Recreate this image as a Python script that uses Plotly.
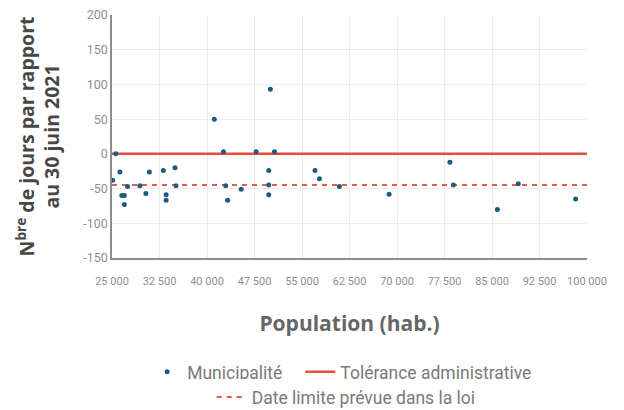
import plotly.graph_objects as go

population = [25100, 25600, 26250, 26550, 26950, 26950, 27450, 29400, 30350, 30900,
              33100, 33550, 33550, 34950, 35100, 41150, 42600, 42950, 43250, 45400,
              47750, 50000, 49750, 49750, 49750, 50650, 57050, 57750, 60900, 68750,
              78350, 78900, 85850, 89150, 98200]
jours = [-38, 0, -26, -60, -60, -73, -47, -46, -57, -26,
         -24, -59, -67, -20, -46, 50, 3, -46, -67, -51,
         3, 93, -24, -45, -59, 3, -24, -36, -47, -58,
         -12, -45, -80, -43, -65]

tolerance_x = [25000, 100000]
tolerance_y = [0, 0]
loi_x = [25000, 100000]
loi_y = [-45, -45]

x_ticks = [25000, 32500, 40000, 47500, 55000, 62500, 70000, 77500, 85000, 92500, 100000]
x_ticktext = ["25 000", "32 500", "40 000", "47 500", "55 000", "62 500",
              "70 000", "77 500", "85 000", "92 500", "100 000"]
y_ticks = [200, 150, 100, 50, 0, -50, -100, -150]
y_ticktext = ["200", "150", "100", "50", "0", "-50", "-100", "-150"]

blue = "#1e5b7c"
red = "#ea4a3f"
grey_txt = "#8f8f8f"

fig = go.Figure()
fig.add_trace(go.Scatter(x=tolerance_x, y=tolerance_y, mode="lines", name="Tolérance administrative",
                         line=dict(color=red, width=2.5), legend="legend", legendrank=2))
fig.add_trace(go.Scatter(x=loi_x, y=loi_y, mode="lines", name="Date limite prévue dans la loi",
                         line=dict(color="#ec5a4e", width=2, dash="5px,5px"), legend="legend2"))
fig.add_trace(go.Scatter(x=population, y=jours, mode="markers", name="Municipalité\u00a0\u00a0\u00a0",
                         marker=dict(color=blue, size=5), cliponaxis=False,
                         legend="legend", legendrank=1))

# page body has an 8px margin: shrink the figure so the plot sits where the reference has it
fig.update_layout(
    width=616, height=402,
    margin=dict(l=104, r=37, t=7, b=152, autoexpand=False),
    paper_bgcolor="white", plot_bgcolor="white",
    font=dict(family="Roboto", color=grey_txt, size=12),
    showlegend=True,
    legend=dict(orientation="h", x=0.074, xanchor="left", y=-0.395, yanchor="top",
                font=dict(size=17.5, color="#7a7a7a"), itemwidth=30, traceorder="normal"),
    legend2=dict(orientation="h", x=0.21, xanchor="left", y=-0.498, yanchor="top",
                 font=dict(size=17.5, color="#7a7a7a"), itemwidth=30),
)
fig.update_xaxes(range=[25000, 100000], tickvals=x_ticks, ticktext=x_ticktext,
                 showgrid=True, gridcolor="#ececec", gridwidth=1,
                 showline=True, linecolor="#8c8c8c", linewidth=1.5,
                 zeroline=False, ticks="", tickfont=dict(size=11, color=grey_txt),
                 ticklabelstandoff=12, automargin=False, ticklabeloverflow="allow",
                 title=dict(text="Population (hab.)", standoff=29,
                            font=dict(family="Open Sans", size=21, color="#666666", weight="bold")))
fig.update_yaxes(range=[-150, 200], tickvals=y_ticks, ticktext=y_ticktext,
                 showgrid=True, gridcolor="#ececec", gridwidth=1,
                 showline=True, linecolor="#8c8c8c", linewidth=1.5,
                 zeroline=False, ticks="", tickfont=dict(size=12.5, color=grey_txt),
                 automargin=False, ticklabeloverflow="allow",
                 title=dict(text="N<sup>bre</sup> de jours par rapport<br>au 30 juin 2021", standoff=18,
                            font=dict(family="Open Sans", size=19.5, color="#474747", weight="bold")))

fig.write_html("out.html")
